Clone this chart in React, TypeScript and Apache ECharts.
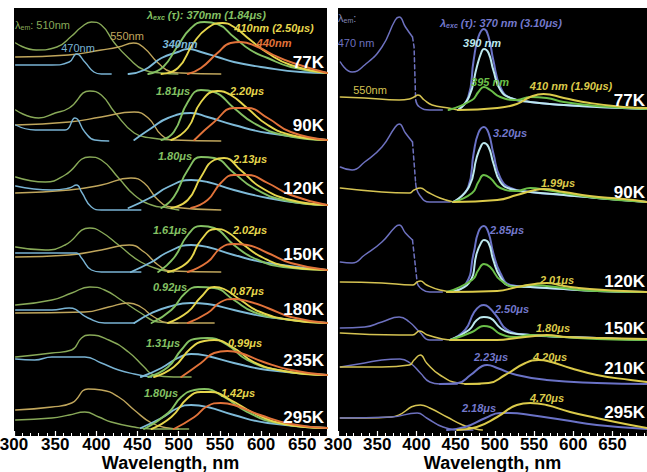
import React, { useEffect, useRef } from 'react';
import * as echarts from 'echarts';

// ---------------- axes ----------------
const xTicksLeft = { min: 300, max: 680, interval: 50 };
const xTicksRight = { min: 300, max: 694, interval: 50 };
const xTitle = 'Wavelength, nm';

// ---------------- LEFT PANEL: [wavelength nm, intensity above row baseline] ----------------
const leftTemps = ['77K', '90K', '120K', '150K', '180K', '235K', '295K'];
const leftBase = [362, 295, 226, 164, 113, 59, 7];

const L77 = {
  ex510: [[302,31],[327,24],[352,27],[370,38],[382,47],[394,52],[406,49],[422,31],[439,16],[458,4],[479,1],[499,0]],
  ex550: [[302,17],[366,19],[406,24],[427,27],[445,31],[458,26],[475,11],[491,2],[503,1],[551,0]],
  ex470: [[302,9],[346,9],[367,12],[376,20],[386,12],[397,2],[406,0],[418,0]],
  em340: [[439,0],[458,4],[479,16],[499,22],[511,25],[527,22],[547,17],[567,12],[608,6],[648,2],[680,1]],
  em370: [[463,0],[481,7],[498,27],[515,46],[531,52],[547,50],[567,37],[587,24],[608,16],[636,7],[680,1]],
  em410: [[479,0],[499,6],[518,31],[535,46],[553,51],[567,47],[587,34],[608,21],[636,9],[680,1]],
  em440: [[511,0],[527,6],[547,21],[563,31],[575,32],[596,27],[615,19],[639,11],[680,1]],
};
const L90 = {
  ex510: [[302,31],[330,23],[350,28],[367,33],[392,50],[406,46],[422,29],[446,8],[467,3],[494,1]],
  ex550: [[302,16],[367,19],[406,24],[446,29],[463,23],[479,6],[494,1],[551,0]],
  ex470: [[302,16],[326,11],[362,11],[374,23],[386,9],[398,1],[415,0]],
  em340: [[446,1],[467,13],[487,23],[515,28],[535,24],[567,16],[608,8],[680,1]],
  em370: [[479,1],[494,9],[511,39],[527,51],[543,49],[567,33],[591,18],[627,6],[680,1]],
  em410: [[491,1],[511,13],[527,39],[547,50],[563,46],[583,33],[608,16],[636,6],[680,1]],
  em440: [[519,1],[543,19],[567,33],[583,33],[608,23],[636,9],[680,1]],
};
const L120 = {
  ex510: [[302,33],[338,28],[362,35],[392,53],[406,50],[427,32],[446,15],[467,5],[487,2],[500,0]],
  ex550: [[302,17],[367,20],[406,25],[442,32],[458,27],[475,10],[491,3],[551,0]],
  ex470: [[302,24],[346,20],[367,22],[376,25],[382,18],[394,3],[406,0],[454,0]],
  em340: [[439,2],[467,13],[487,23],[515,30],[535,28],[567,20],[608,12],[648,7],[680,5]],
  em370: [[479,2],[494,13],[511,40],[527,53],[543,52],[567,37],[591,22],[627,10],[680,5]],
  em410: [[491,2],[511,10],[527,33],[543,50],[555,52],[575,40],[599,23],[636,10],[680,5]],
  em440: [[515,2],[535,10],[551,27],[567,35],[583,35],[608,27],[636,15],[680,5]],
};
const L150 = {
  ex510: [[302,25],[338,22],[362,27],[392,44],[406,40],[427,27],[454,10],[479,2],[494,0]],
  ex550: [[302,15],[367,17],[406,22],[440,27],[458,20],[475,7],[491,1],[551,0]],
  ex470: [[302,19],[367,19],[376,19],[382,14],[394,2],[406,0],[454,0]],
  em340: [[442,0],[467,10],[487,20],[515,27],[535,25],[567,17],[608,9],[680,2]],
  em370: [[475,0],[494,14],[511,37],[527,46],[543,44],[567,27],[591,14],[627,5],[680,2]],
  em410: [[487,0],[511,10],[527,32],[545,43],[559,40],[579,27],[603,14],[636,5],[680,2]],
  em440: [[511,0],[535,10],[551,24],[567,28],[583,27],[608,19],[636,9],[680,2]],
};
const L180 = {
  ex510: [[302,18],[346,23],[370,30],[392,36],[410,33],[430,23],[454,10],[475,1],[499,0]],
  ex550: [[302,10],[386,11],[415,16],[439,20],[454,16],[470,6],[491,0],[543,0]],
  ex470: [[302,13],[346,13],[367,15],[390,5],[410,0],[446,0]],
  em340: [[446,0],[467,10],[487,16],[515,20],[535,19],[567,13],[608,6],[680,0]],
  em370: [[467,0],[491,13],[508,30],[523,36],[543,35],[567,23],[591,11],[627,4],[680,0]],
  em410: [[487,0],[511,11],[527,26],[543,36],[555,34],[575,23],[599,11],[636,3],[680,0]],
  em440: [[511,0],[535,10],[551,21],[567,24],[587,21],[608,15],[636,6],[680,0]],
};
const L235 = {
  ex510: [[302,20],[346,24],[370,27],[382,39],[392,42],[415,37],[439,25],[458,10],[470,2],[494,0],[515,0]],
  ex470: [[302,18],[325,17],[346,20],[386,20],[406,14],[427,7],[446,3],[467,0]],
  em340: [[454,0],[479,9],[499,19],[515,23],[535,21],[567,14],[608,7],[680,2]],
  em370: [[463,0],[487,10],[503,27],[519,38],[535,39],[559,32],[583,17],[620,7],[680,2]],
  em410: [[470,0],[494,10],[515,29],[531,36],[543,37],[567,29],[591,15],[627,6],[680,2]],
  em440: [[503,0],[527,14],[543,24],[559,26],[575,24],[603,15],[636,7],[680,2]],
};
const L295 = {
  ex550: [[302,19],[346,22],[370,26],[390,40],[406,39],[427,32],[446,19],[467,6],[487,1],[500,0]],
  ex510: [[302,9],[346,11],[367,14],[386,17],[403,12],[418,7],[446,2],[467,0],[512,0]],
  em340: [[454,1],[479,11],[499,21],[515,24],[535,22],[567,14],[608,6],[680,1]],
  em370: [[458,0],[487,16],[503,32],[519,39],[531,40],[555,32],[583,17],[620,6],[680,1]],
  em410: [[467,0],[491,12],[511,31],[527,37],[539,37],[563,29],[591,16],[627,5],[680,1]],
  em440: [[494,0],[519,12],[535,23],[551,26],[567,24],[599,14],[636,5],[680,1]],
};
const leftRows = [L77, L90, L120, L150, L180, L235, L295];

// ---------------- RIGHT PANEL ----------------
const rightTemps = ['77K', '90K', '120K', '150K', '210K', '295K'];
const rightBase = [326, 234, 144, 96, 52, 6];

const R77 = {
  ex470: [[303,48],[318,38],[334,45],[356,63],[373,90],[378,93],[386,83],[395,73]],
  ex470dash: [[395,73],[397,63],[399,10]],
  ex470tail: [[399,10],[404,3],[417,0],[433,0]],
  ex550: [[303,13],[334,12],[378,10],[391,11],[397,13],[402,15],[410,10],[420,5],[441,2],[453,0]],
  em370: [[453,0],[466,13],[473,50],[479,73],[486,81],[492,73],[498,50],[507,23],[520,12],[545,8],[588,5],[630,3],[694,1]],
  em390: [[453,0],[467,13],[477,43],[483,58],[486,61],[492,57],[498,40],[507,20],[520,12],[545,8],[588,5],[630,3],[694,1]],
  em395: [[441,0],[471,10],[479,18],[486,23],[494,20],[507,13],[528,10],[545,13],[566,12],[588,8],[630,4],[694,1]],
  em410: [[453,0],[503,2],[528,6],[545,13],[562,16],[588,12],[621,7],[664,3],[694,2]],
};
const R90 = {
  ex470: [[303,35],[318,32],[334,40],[356,55],[373,75],[378,78],[386,69],[395,60]],
  ex470dash: [[395,60],[399,19]],
  ex470tail: [[399,19],[404,7],[417,0],[443,0]],
  ex550: [[303,14],[356,10],[391,9],[397,12],[405,14],[414,10],[430,4],[447,0]],
  em370: [[447,0],[466,15],[473,49],[479,69],[486,75],[492,69],[498,49],[507,24],[520,14],[545,10],[588,7],[630,4],[694,0]],
  em390: [[447,0],[467,15],[477,45],[483,57],[486,59],[492,55],[498,39],[507,20],[520,13],[545,10],[588,7],[630,4],[694,0]],
  em395: [[447,0],[471,9],[479,20],[486,27],[494,24],[507,14],[528,11],[545,14],[566,12],[588,9],[630,4],[694,0]],
  em410: [[447,0],[503,2],[528,7],[551,12],[562,13],[588,10],[621,6],[664,3],[694,0]],
};
const R120 = {
  ex470: [[303,30],[318,29],[334,37],[356,50],[373,65],[378,67],[386,59],[395,52]],
  ex470dash: [[395,52],[401,9]],
  ex470tail: [[401,9],[405,4],[417,0],[433,0]],
  ex550: [[303,10],[356,9],[395,7],[401,10],[405,11],[413,7],[430,2],[447,0]],
  em370: [[439,0],[462,7],[473,39],[479,60],[486,66],[492,59],[498,39],[507,19],[520,7],[545,5],[588,3],[630,1],[694,0]],
  em390: [[439,0],[467,9],[477,39],[483,50],[486,52],[492,49],[498,32],[507,15],[520,6],[545,5],[588,3],[630,1],[694,0]],
  em395: [[439,0],[471,12],[479,22],[486,28],[494,25],[507,12],[528,5],[545,7],[566,6],[588,4],[630,1],[694,0]],
  em410: [[439,0],[503,1],[528,5],[551,8],[566,9],[588,6],[621,3],[664,1],[694,0]],
};
const R150 = {
  ex470: [[303,12],[334,13],[356,18],[378,23],[391,18],[404,8],[417,0],[433,0]],
  ex550: [[303,7],[378,5],[395,5],[404,9],[414,5],[433,1],[447,0],[503,0]],
  em370: [[443,0],[462,10],[473,27],[481,34],[486,35],[492,33],[503,23],[516,10],[545,5],[588,3],[630,2],[694,0]],
  em390: [[443,0],[467,10],[477,20],[486,23],[494,22],[507,12],[520,7],[545,5],[588,3],[630,2],[694,0]],
  em395: [[443,0],[471,8],[481,13],[486,14],[494,13],[507,6],[528,3],[545,5],[566,4],[588,3],[630,1],[694,0]],
  em410: [[443,0],[503,0],[528,2],[551,4],[566,5],[592,3],[630,2],[694,1]],
};
const R210 = {
  ex470: [[303,17],[334,21],[356,24],[379,25],[392,21],[405,11],[417,2],[430,0],[452,0]],
  ex550: [[303,17],[356,17],[391,19],[397,24],[405,29],[413,21],[430,9],[453,1],[469,0],[481,0]],
  em370: [[430,0],[453,1],[469,9],[484,18],[490,19],[503,16],[528,9],[566,4],[630,1],[694,0]],
  em410: [[462,0],[492,1],[513,9],[539,21],[556,24],[572,22],[596,16],[630,9],[673,4],[694,2]],
};
const R295 = {
  ex550: [[303,12],[334,12],[368,13],[405,25],[417,22],[439,13],[459,5],[476,1],[484,0]],
  ex470: [[303,12],[368,13],[401,17],[413,12],[434,3],[459,0],[472,0]],
  em370: [[439,0],[462,3],[488,12],[507,17],[520,17],[545,15],[588,10],[630,5],[694,1]],
  em410: [[452,0],[477,3],[503,13],[528,25],[545,27],[566,25],[596,18],[630,12],[673,5],[694,2]],
};
const rightRows = [R77, R90, R120, R150, R210, R295];

// lifetimes (text)
const leftLifetimes = [
  ['1.81μs', '2.20μs'], ['1.80μs', '2.13μs'], ['1.61μs', '2.02μs'],
  ['0.92μs', '0.87μs'], ['1.31μs', '0.99μs'], ['1.80μs', '1.42μs'],
];
const rightLifetimes = [
  ['3.20μs', '1.99μs'], ['2.85μs', '2.01μs'], ['2.50μs', '1.80μs'],
  ['2.23μs', '4.20μs'], ['2.18μs', '4.70μs'],
];

// ---------------- styling ----------------
const leftColors: Record<string, string> = {
  ex510: '#88a958', ex550: '#c0a65c', ex470: '#79b3d3',
  em340: '#7ebad8', em370: '#84c163', em410: '#e6d64c', em440: '#e2733a',
};
const rightColors: Record<string, string> = {
  ex470: '#6d71bf', ex550: '#d5c352', em370: '#6a72c6',
  em390: '#bde9ee', em395: '#6bbf49', em410: '#dbca4a',
};
const FONT = '"Liberation Sans", Arial, sans-serif';

const W = 647, H = 472;
const GRID_TOP = 8, GRID_H = 428;
const LEFT_GRID = { left: 14, width: 313 };
const RIGHT_GRID = { left: 338, width: 309 };

function buildSeries(rows: any[], bases: number[], colors: Record<string, string>, idx: number, width: number) {
  const out: any[] = [];
  rows.forEach((row, r) => {
    Object.keys(row).forEach((key) => {
      const ck = key.replace(/dash|tail/, '');
      const dashed = key.endsWith('dash');
      out.push({
        type: 'line',
        xAxisIndex: idx,
        yAxisIndex: idx,
        data: row[key].map((p: number[]) => [p[0], bases[r] + p[1]]),
        showSymbol: false,
        symbol: 'none',
        smooth: dashed ? false : 0.5,
        silent: true,
        clip: true,
        lineStyle: {
          color: colors[ck],
          width: ck.startsWith('em') ? width + 0.5 : width,
          type: dashed ? [4, 3] : 'solid',
          cap: 'round',
          join: 'round',
        },
      });
    });
  });
  return out;
}

function txt(text: string, x: number, y: number, color: string, kind: string, align = 'center') {
  const italic = kind === 'lab';
  const size = kind === 'temp' ? 17 : 11;
  const weight = kind === 'plain' ? 'normal' : 'bold';
  const m = { fill: color, fontSize: size, fontStyle: italic ? 'italic' : 'normal', fontWeight: weight, fontFamily: FONT };
  return {
    type: 'text',
    x, y,
    silent: true,
    z: 100,
    style: {
      text,
      fill: color,
      fontSize: size,
      fontStyle: italic ? 'italic' : 'normal',
      fontWeight: weight,
      fontFamily: FONT,
      align,
      verticalAlign: 'middle',
      rich: {
        m,
        s: { ...m, fontSize: 7, verticalAlign: 'bottom', padding: [5, 0, 0, 0] },
      },
    },
  };
}

export default function App() {
  const ref = useRef<HTMLDivElement>(null);
  useEffect(() => {
    if (!ref.current) return;
    const chart = echarts.init(ref.current, undefined, { renderer: 'svg' });

    const axisCommon = (range: any, gridIndex: number) => ({
      type: 'value',
      gridIndex,
      min: range.min,
      max: range.max,
      interval: range.interval,
      name: xTitle,
      nameLocation: 'middle',
      nameGap: 18,
      nameMoveOverlap: false,
      nameTextStyle: { color: '#000', fontSize: 18, fontWeight: 'bold', fontFamily: FONT, lineHeight: 17 },
      axisLine: { show: false },
      splitLine: { show: false },
      axisTick: { show: true, inside: true, length: 5, lineStyle: { color: '#fff', width: 1.2 } },
      minorTick: { show: true, splitNumber: 5, length: 3, lineStyle: { color: '#fff', width: 1 } },
      axisLabel: {
        color: '#000', fontSize: 17, fontWeight: 'bold', fontFamily: FONT, margin: 1, lineHeight: 15,
        showMaxLabel: false,
      },
    });

    const leftAnn = [
      txt('{m|λ}{s|em}{m|: 510nm}', 15, 25, leftColors.ex510, 'plain', 'left'),
      txt('550nm', 127, 36, leftColors.ex550, 'plain'),
      txt('470nm', 78, 48, leftColors.ex470, 'plain'),
      txt('{m|λ}{s|exc}{m| (τ): 370nm (1.84μs)}', 147, 15, leftColors.em370, 'lab', 'left'),
      txt('410nm (2.50μs)', 274, 28, leftColors.em410, 'lab'),
      txt('440nm', 274, 43, leftColors.em440, 'lab'),
      txt('340nm', 180, 44, leftColors.em340, 'lab'),
    ];
    const leftTempY = [62, 125, 188, 254, 309, 360, 417];
    leftTemps.forEach((t, i) => leftAnn.push(txt(t, 324, leftTempY[i], '#fff', 'temp', 'right')));
    const leftLifePos = [[173, 91, 247, 91], [175, 156, 250, 159], [170, 230, 250, 230], [170, 287, 247, 291], [163, 343, 245, 343], [161, 393, 238, 393]];
    leftLifetimes.forEach((p, i) => {
      const q = leftLifePos[i];
      leftAnn.push(txt(p[0], q[0], q[1], leftColors.em370, 'lab'));
      leftAnn.push(txt(p[1], q[2], q[3], leftColors.em410, 'lab'));
    });

    const rightAnn = [
      txt('{m|λ}{s|em}{m|:}', 338, 18, '#8286b8', 'plain', 'left'),
      txt('470 nm', 356, 43, rightColors.ex470, 'plain'),
      txt('550nm', 370, 90, rightColors.ex550, 'plain'),
      txt('{m|λ}{s|exc}{m| (τ): 370 nm (3.10μs)}', 440, 23, '#7378cc', 'lab', 'left'),
      txt('390 nm', 482, 43, rightColors.em390, 'lab'),
      txt('395 nm', 490, 82, rightColors.em395, 'lab'),
      txt('410 nm (1.90μs)', 571, 86, rightColors.em410, 'lab'),
    ];
    const rightTempY = [100, 192, 281, 328, 368, 412];
    rightTemps.forEach((t, i) => rightAnn.push(txt(t, 645, rightTempY[i], '#fff', 'temp', 'right')));
    const rightLifePos = [[510, 133, 558, 183], [507, 230, 557, 280], [512, 309, 553, 328], [491, 357, 550, 357], [479, 408, 547, 398]];
    rightLifetimes.forEach((p, i) => {
      const q = rightLifePos[i];
      rightAnn.push(txt(p[0], q[0], q[1], '#7378cc', 'lab'));
      rightAnn.push(txt(p[1], q[2], q[3], rightColors.em410, 'lab'));
    });

    chart.setOption({
      animation: false,
      backgroundColor: '#fff',
      grid: [
        { left: LEFT_GRID.left, width: LEFT_GRID.width, top: GRID_TOP, height: GRID_H, show: true, backgroundColor: '#000', borderWidth: 0, outerBoundsMode: 'none', containLabel: false },
        { left: RIGHT_GRID.left, width: RIGHT_GRID.width, top: GRID_TOP, height: GRID_H, show: true, backgroundColor: '#000', borderWidth: 0, outerBoundsMode: 'none', containLabel: false },
      ],
      xAxis: [axisCommon(xTicksLeft, 0), axisCommon(xTicksRight, 1)],
      yAxis: [
        { type: 'value', gridIndex: 0, min: 0, max: GRID_H, show: false },
        { type: 'value', gridIndex: 1, min: 0, max: GRID_H, show: false },
      ],
      series: [
        ...buildSeries(leftRows, leftBase, leftColors, 0, 1.4),
        ...buildSeries(rightRows, rightBase, rightColors, 1, 1.5),
      ],
      graphic: [...leftAnn, ...rightAnn],
    });
    return () => chart.dispose();
  }, []);
  return <div ref={ref} style={{ position: 'fixed', left: 0, top: 0, width: W, height: H }} />;
}
